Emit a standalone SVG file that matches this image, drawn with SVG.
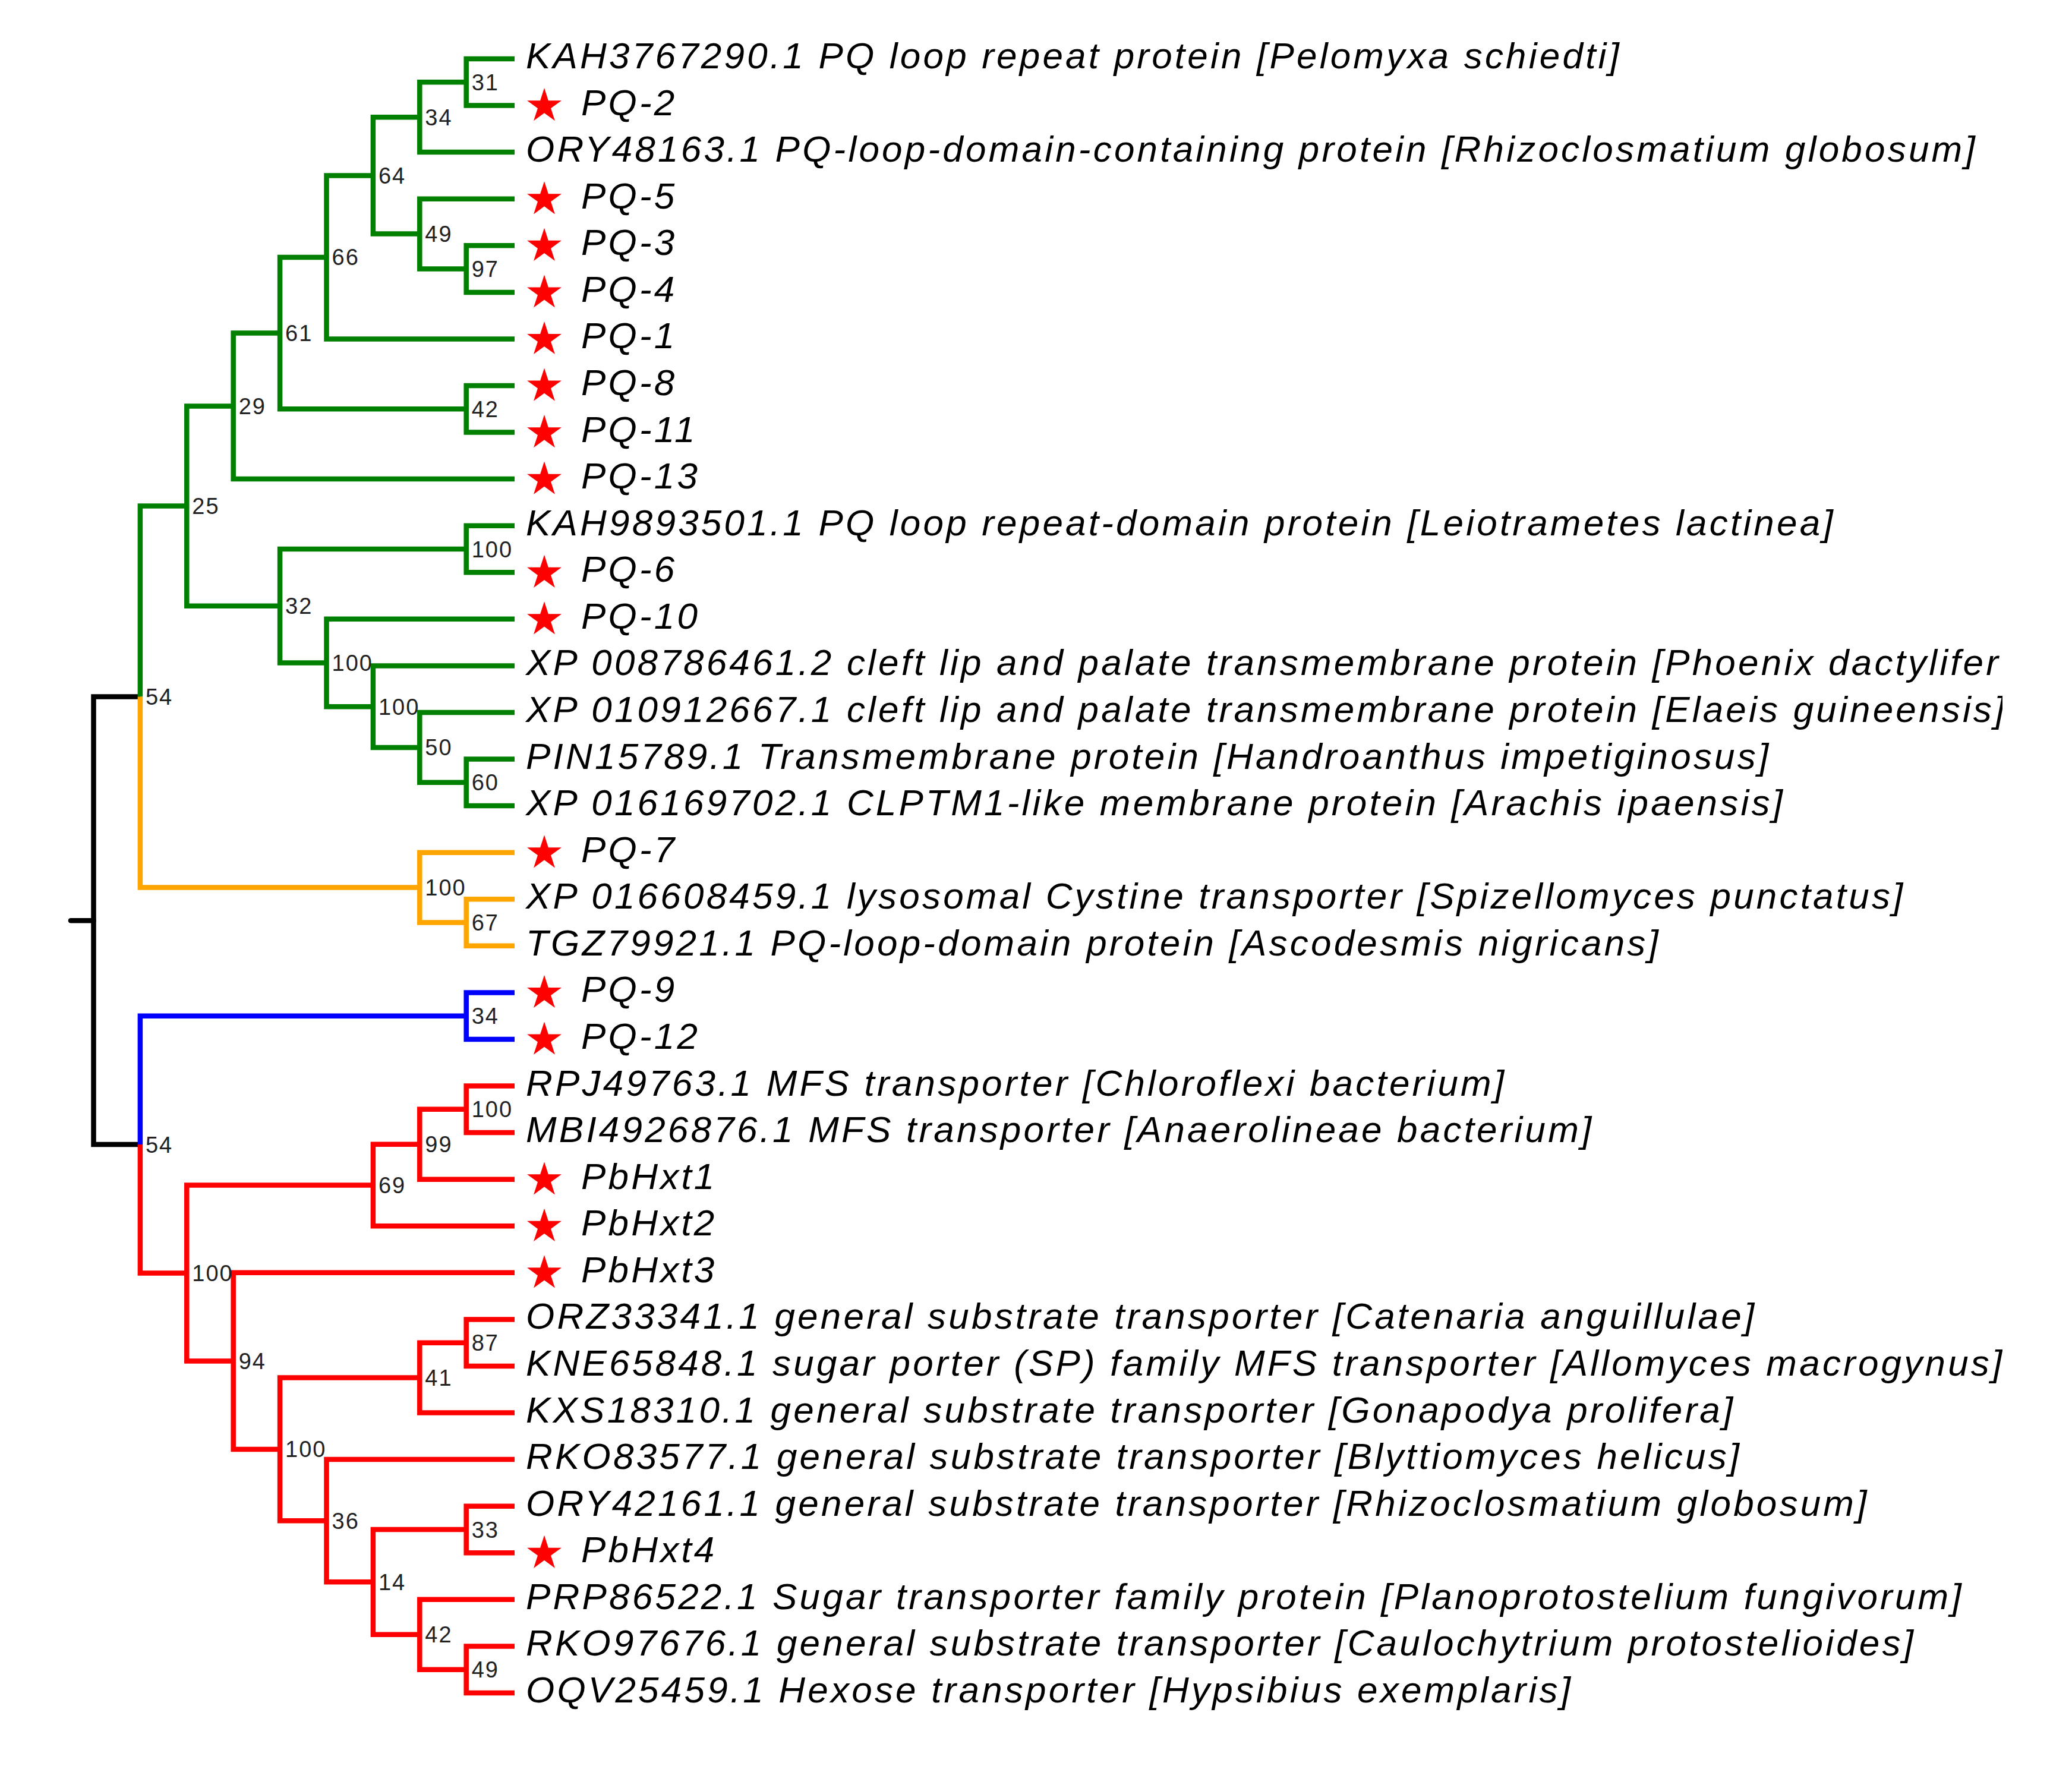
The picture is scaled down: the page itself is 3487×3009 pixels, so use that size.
<svg xmlns="http://www.w3.org/2000/svg" xmlns:xlink="http://www.w3.org/1999/xlink" width="3487" height="3009" viewBox="0 0 3487 3009">
<style>
.br{fill:none;stroke-width:8.5;stroke-linejoin:miter;stroke-linecap:butt}
.g{stroke:#008000}.o{stroke:#FFA500}.b{stroke:#0000FF}.r{stroke:#FF0000}.k{stroke:#000000}
.lf{font-family:"Liberation Sans",Arial,sans-serif;font-style:italic;font-size:62px;letter-spacing:4.2px;fill:#000}
.bs{font-family:"Liberation Sans",Arial,sans-serif;font-size:38px;letter-spacing:2px;fill:#222}
.st{fill:#FF0000}
</style>
<defs>
<polygon id="star" points="0,-30.5 6.85,-9.43 29.01,-9.43 11.08,3.6 17.93,24.68 0,11.65 -17.93,24.68 -11.08,3.6 -29.01,-9.43 -6.85,-9.43"/>
<clipPath id="clip"><rect x="0" y="0" width="3370" height="3009"/></clipPath>
</defs>
<rect width="3487" height="3009" fill="#fff"/>
<g id="connectors">
<path class="br k" d="M119,1549.3 H157.5" style="stroke-linecap:round"/>
<path class="br k" d="M157.5,1549.3 V1172.6 H235.9 M157.5,1549.3 V1926.1 H235.9"/>
<path class="br g" d="M235.9,1172.6 V851.6 H314.3
M314.3,851.6 V683.4 H392.7 M314.3,851.6 V1019.7 H471.1
M392.7,683.4 V560.6 H471.1 M392.7,683.4 V806.1 H866
M471.1,560.6 V432.9 H549.5 M471.1,560.6 V688.3 H784.7
M549.5,432.9 V295.4 H627.9 M549.5,432.9 V570.4 H866
M627.9,295.4 V197.2 H706.3 M627.9,295.4 V393.6 H706.3
M706.3,197.2 V138.3 H784.7 M706.3,197.2 V256.1 H866
M784.7,138.3 V99 H866 M784.7,138.3 V177.6 H866
M706.3,393.6 V334.7 H866 M706.3,393.6 V452.6 H784.7
M784.7,452.6 V413.3 H866 M784.7,452.6 V491.9 H866
M784.7,688.3 V649 H866 M784.7,688.3 V727.6 H866
M471.1,1019.7 V924 H784.7 M471.1,1019.7 V1115.5 H549.5
M784.7,924 V884.7 H866 M784.7,924 V963.3 H866
M549.5,1115.5 V1041.8 H866 M549.5,1115.5 V1189.2 H627.9
M627.9,1189.2 V1120.4 H866 M627.9,1189.2 V1257.9 H706.3
M706.3,1257.9 V1199 H866 M706.3,1257.9 V1316.8 H784.7
M784.7,1316.8 V1277.6 H866 M784.7,1316.8 V1356.1 H866"/>
<path class="br o" d="M235.9,1172.6 V1493.6 H706.3
M706.3,1493.6 V1434.7 H866 M706.3,1493.6 V1552.5 H784.7
M784.7,1552.5 V1513.3 H866 M784.7,1552.5 V1591.8 H866"/>
<path class="br b" d="M235.9,1926.1 V1709.7 H784.7
M784.7,1709.7 V1670.4 H866 M784.7,1709.7 V1749 H866"/>
<path class="br r" d="M235.9,1926.1 V2142.4 H314.3
M314.3,2142.4 V1994.5 H627.9 M314.3,2142.4 V2290.4 H392.7
M627.9,1994.5 V1925.8 H706.3 M627.9,1994.5 V2063.3 H866
M706.3,1925.8 V1866.8 H784.7 M706.3,1925.8 V1984.7 H866
M784.7,1866.8 V1827.5 H866 M784.7,1866.8 V1906.1 H866
M392.7,2290.4 V2141.8 H866 M392.7,2290.4 V2438.9 H471.1
M471.1,2438.9 V2318.6 H706.3 M471.1,2438.9 V2559.2 H549.5
M706.3,2318.6 V2259.7 H784.7 M706.3,2318.6 V2377.5 H866
M784.7,2259.7 V2220.4 H866 M784.7,2259.7 V2299 H866
M549.5,2559.2 V2456.1 H866 M549.5,2559.2 V2662.3 H627.9
M627.9,2662.3 V2574 H784.7 M627.9,2662.3 V2750.7 H706.3
M784.7,2574 V2534.7 H866 M784.7,2574 V2613.2 H866
M706.3,2750.7 V2691.8 H866 M706.3,2750.7 V2809.7 H784.7
M784.7,2809.7 V2770.4 H866 M784.7,2809.7 V2849 H866"/>
</g>
<g id="bootstrap">
<g id="n31"><text class="bs" x="793.7" y="151.8">31</text></g>
<g id="n34"><text class="bs" x="715.3" y="210.7">34</text></g>
<g id="n64"><text class="bs" x="636.9" y="308.9">64</text></g>
<g id="n49"><text class="bs" x="715.3" y="407.1">49</text></g>
<g id="n97"><text class="bs" x="793.7" y="466.1">97</text></g>
<g id="n66"><text class="bs" x="558.5" y="446.4">66</text></g>
<g id="n61"><text class="bs" x="480.1" y="574.1">61</text></g>
<g id="n42"><text class="bs" x="793.7" y="701.8">42</text></g>
<g id="n29"><text class="bs" x="401.7" y="696.9">29</text></g>
<g id="n25"><text class="bs" x="323.3" y="865.1">25</text></g>
<g id="n100a"><text class="bs" x="793.7" y="937.5">100</text></g>
<g id="n32"><text class="bs" x="480.1" y="1033.2">32</text></g>
<g id="n100b"><text class="bs" x="558.5" y="1129">100</text></g>
<g id="n100c"><text class="bs" x="636.9" y="1202.7">100</text></g>
<g id="n50"><text class="bs" x="715.3" y="1271.4">50</text></g>
<g id="n60"><text class="bs" x="793.7" y="1330.3">60</text></g>
<g id="n54a"><text class="bs" x="244.9" y="1186.1">54</text></g>
<g id="n100d"><text class="bs" x="715.3" y="1507.1">100</text></g>
<g id="n67"><text class="bs" x="793.7" y="1566">67</text></g>
<g id="n34b"><text class="bs" x="793.7" y="1723.2">34</text></g>
<g id="n54b"><text class="bs" x="244.9" y="1939.6">54</text></g>
<g id="n100e"><text class="bs" x="793.7" y="1880.3">100</text></g>
<g id="n99"><text class="bs" x="715.3" y="1939.3">99</text></g>
<g id="n69"><text class="bs" x="636.9" y="2008">69</text></g>
<g id="n100f"><text class="bs" x="323.3" y="2155.9">100</text></g>
<g id="n94"><text class="bs" x="401.7" y="2303.9">94</text></g>
<g id="n87"><text class="bs" x="793.7" y="2273.2">87</text></g>
<g id="n41"><text class="bs" x="715.3" y="2332.1">41</text></g>
<g id="n100g"><text class="bs" x="480.1" y="2452.4">100</text></g>
<g id="n36"><text class="bs" x="558.5" y="2572.7">36</text></g>
<g id="n33"><text class="bs" x="793.7" y="2587.5">33</text></g>
<g id="n14"><text class="bs" x="636.9" y="2675.8">14</text></g>
<g id="n42b"><text class="bs" x="715.3" y="2764.2">42</text></g>
<g id="n49b"><text class="bs" x="793.7" y="2823.2">49</text></g>
</g>
<g id="leaves" clip-path="url(#clip)">
<g id="leaf0"><text class="lf" x="885" y="115">KAH3767290.1 PQ loop repeat protein [Pelomyxa schiedti]</text></g>
<g id="leaf1"><use xlink:href="#star" class="st" x="916" y="178.6"/><text class="lf" x="978" y="193.6">PQ-2</text></g>
<g id="leaf2"><text class="lf" x="885" y="272.1">ORY48163.1 PQ-loop-domain-containing protein [Rhizoclosmatium globosum]</text></g>
<g id="leaf3"><use xlink:href="#star" class="st" x="916" y="335.7"/><text class="lf" x="978" y="350.7">PQ-5</text></g>
<g id="leaf4"><use xlink:href="#star" class="st" x="916" y="414.3"/><text class="lf" x="978" y="429.3">PQ-3</text></g>
<g id="leaf5"><use xlink:href="#star" class="st" x="916" y="492.9"/><text class="lf" x="978" y="507.9">PQ-4</text></g>
<g id="leaf6"><use xlink:href="#star" class="st" x="916" y="571.4"/><text class="lf" x="978" y="586.4">PQ-1</text></g>
<g id="leaf7"><use xlink:href="#star" class="st" x="916" y="650"/><text class="lf" x="978" y="665">PQ-8</text></g>
<g id="leaf8"><use xlink:href="#star" class="st" x="916" y="728.6"/><text class="lf" x="978" y="743.6">PQ-11</text></g>
<g id="leaf9"><use xlink:href="#star" class="st" x="916" y="807.1"/><text class="lf" x="978" y="822.1">PQ-13</text></g>
<g id="leaf10"><text class="lf" x="885" y="900.7">KAH9893501.1 PQ loop repeat-domain protein [Leiotrametes lactinea]</text></g>
<g id="leaf11"><use xlink:href="#star" class="st" x="916" y="964.3"/><text class="lf" x="978" y="979.3">PQ-6</text></g>
<g id="leaf12"><use xlink:href="#star" class="st" x="916" y="1042.8"/><text class="lf" x="978" y="1057.8">PQ-10</text></g>
<g id="leaf13"><text class="lf" x="885" y="1136.4">XP 008786461.2 cleft lip and palate transmembrane protein [Phoenix dactylifer</text></g>
<g id="leaf14"><text class="lf" x="885" y="1215">XP 010912667.1 cleft lip and palate transmembrane protein [Elaeis guineensis]</text></g>
<g id="leaf15"><text class="lf" x="885" y="1293.6">PIN15789.1 Transmembrane protein [Handroanthus impetiginosus]</text></g>
<g id="leaf16"><text class="lf" x="885" y="1372.1">XP 016169702.1 CLPTM1-like membrane protein [Arachis ipaensis]</text></g>
<g id="leaf17"><use xlink:href="#star" class="st" x="916" y="1435.7"/><text class="lf" x="978" y="1450.7">PQ-7</text></g>
<g id="leaf18"><text class="lf" x="885" y="1529.3">XP 016608459.1 lysosomal Cystine transporter [Spizellomyces punctatus]</text></g>
<g id="leaf19"><text class="lf" x="885" y="1607.8">TGZ79921.1 PQ-loop-domain protein [Ascodesmis nigricans]</text></g>
<g id="leaf20"><use xlink:href="#star" class="st" x="916" y="1671.4"/><text class="lf" x="978" y="1686.4">PQ-9</text></g>
<g id="leaf21"><use xlink:href="#star" class="st" x="916" y="1750"/><text class="lf" x="978" y="1765">PQ-12</text></g>
<g id="leaf22"><text class="lf" x="885" y="1843.5">RPJ49763.1 MFS transporter [Chloroflexi bacterium]</text></g>
<g id="leaf23"><text class="lf" x="885" y="1922.1">MBI4926876.1 MFS transporter [Anaerolineae bacterium]</text></g>
<g id="leaf24"><use xlink:href="#star" class="st" x="916" y="1985.7"/><text class="lf" x="978" y="2000.7">PbHxt1</text></g>
<g id="leaf25"><use xlink:href="#star" class="st" x="916" y="2064.3"/><text class="lf" x="978" y="2079.3">PbHxt2</text></g>
<g id="leaf26"><use xlink:href="#star" class="st" x="916" y="2142.8"/><text class="lf" x="978" y="2157.8">PbHxt3</text></g>
<g id="leaf27"><text class="lf" x="885" y="2236.4">ORZ33341.1 general substrate transporter [Catenaria anguillulae]</text></g>
<g id="leaf28"><text class="lf" x="885" y="2315">KNE65848.1 sugar porter (SP) family MFS transporter [Allomyces macrogynus]</text></g>
<g id="leaf29"><text class="lf" x="885" y="2393.5">KXS18310.1 general substrate transporter [Gonapodya prolifera]</text></g>
<g id="leaf30"><text class="lf" x="885" y="2472.1">RKO83577.1 general substrate transporter [Blyttiomyces helicus]</text></g>
<g id="leaf31"><text class="lf" x="885" y="2550.7">ORY42161.1 general substrate transporter [Rhizoclosmatium globosum]</text></g>
<g id="leaf32"><use xlink:href="#star" class="st" x="916" y="2614.2"/><text class="lf" x="978" y="2629.2">PbHxt4</text></g>
<g id="leaf33"><text class="lf" x="885" y="2707.8">PRP86522.1 Sugar transporter family protein [Planoprotostelium fungivorum]</text></g>
<g id="leaf34"><text class="lf" x="885" y="2786.4">RKO97676.1 general substrate transporter [Caulochytrium protostelioides]</text></g>
<g id="leaf35"><text class="lf" x="885" y="2865">OQV25459.1 Hexose transporter [Hypsibius exemplaris]</text></g>
</g>
</svg>
